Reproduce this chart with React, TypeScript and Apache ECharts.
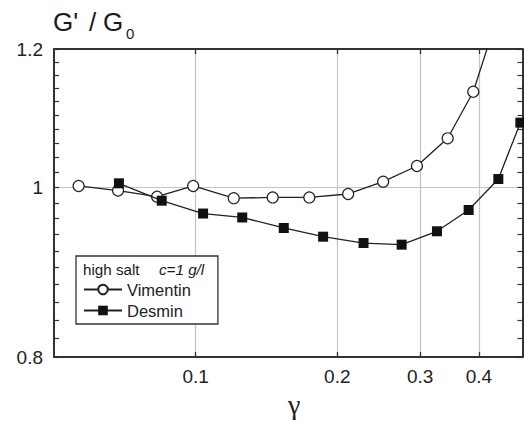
import React, { useEffect, useRef } from 'react';
import * as echarts from 'echarts';

// ---- data ----
const vimentinX = [0.0564, 0.0684, 0.0828, 0.0988, 0.1205, 0.1458, 0.1744, 0.2109, 0.2503, 0.2953, 0.3432, 0.389, 0.4327];
const vimentinY = [1.002, 0.996, 0.988, 1.002, 0.986, 0.987, 0.987, 0.9915, 1.0077, 1.0287, 1.0669, 1.1344, 1.24];
const desminX = [0.0687, 0.0847, 0.1037, 0.1256, 0.1539, 0.1866, 0.2274, 0.274, 0.3257, 0.3803, 0.4398, 0.4898];
const desminY = [1.0055, 0.9828, 0.9663, 0.9613, 0.9481, 0.9373, 0.9295, 0.9275, 0.944, 0.9708, 1.0112, 1.0891];

const xRange = [0.05, 0.495];
const yRange = [0.8, 1.2];
const xTickValues = [0.1, 0.2, 0.3, 0.4];
const yLabelValues = [0.8, 1, 1.2];
const yMinorTickValues = [0.8, 0.82, 0.84, 0.86, 0.88, 0.9, 0.92, 0.94, 0.96, 0.98, 1, 1.02, 1.04, 1.06, 1.08, 1.1, 1.12, 1.14, 1.16, 1.18, 1.2];
const yGridValues = [1];
const seriesNames = ['Vimentin', 'Desmin'];

const L = (v: number) => Math.log10(v);
const fmt = (v: number) => String(Number(Math.pow(10, v).toFixed(2)));

const AX = '#333';
const FONT = 'Liberation Sans';
const TFONT = "'Liberation Sans', Arial, Helvetica, sans-serif";

const axisLineStyle = { onZero: false, lineStyle: { color: AX, width: 2 } };

function ttl(text: string, left: number, top: number, size: number, italic = false) {
  const ts: any = { fontFamily: TFONT, fontSize: size, lineHeight: size, fontWeight: 'normal', color: '#1a1a1a' };
  if (italic) ts.fontStyle = 'italic';
  return { text, left, top, padding: 0, z: 10, textStyle: ts };
}

function buildOption() {
  const xMin = L(xRange[0]);
  const xMax = L(xRange[1]);
  const yMin = L(yRange[0]);
  const yMax = L(yRange[1]);
  const xTicks = xTickValues.map(L);
  const yMinor = yMinorTickValues.map(L);
  return {
    animation: false,
    backgroundColor: '#fff',
    textStyle: { fontFamily: FONT },
    title: [
      ttl("G'", 53, 9, 26),
      ttl('/', 89, 9, 26),
      ttl('G', 103, 9, 26),
      ttl('0', 126, 26, 15),
      ttl('high salt', 83, 261.5, 15.2),
      ttl('c=1 g/l', 159, 261.5, 15.2, true),
    ],
    grid: { left: 54, right: 1.5, top: 49, bottom: 64, containLabel: false, outerBoundsMode: 'none' },
    xAxis: [
      {
        type: 'value', position: 'bottom', min: xMin, max: xMax,
        axisLine: axisLineStyle,
        axisTick: { inside: true, length: 5, customValues: xTicks, lineStyle: { color: AX, width: 1.3 } },
        axisLabel: { customValues: xTicks, formatter: fmt, margin: 10, fontSize: 19, color: '#222', fontFamily: FONT },
        splitLine: { show: true, lineStyle: { color: '#c4c4c4', width: 1.2 } },
        name: 'γ', nameLocation: 'middle', nameGap: 19,
        nameTextStyle: { fontFamily: 'Liberation Serif', fontSize: 28, lineHeight: 28, color: '#222', padding: [0, 0, 0, 12] },
      },
      {
        type: 'value', position: 'top', min: xMin, max: xMax,
        axisLine: axisLineStyle,
        axisTick: { inside: true, length: 5, customValues: xTicks, lineStyle: { color: AX, width: 1.3 } },
        axisLabel: { show: false },
        splitLine: { show: false },
      },
    ],
    yAxis: [
      {
        type: 'value', position: 'left', min: yMin, max: yMax,
        axisLine: axisLineStyle,
        axisTick: { inside: true, length: 5, customValues: yMinor, lineStyle: { color: AX, width: 1.2 } },
        axisLabel: { customValues: yLabelValues.map(L), formatter: fmt, margin: 11, fontSize: 19, color: '#222', fontFamily: FONT },
        splitLine: { show: false },
      },
      {
        type: 'value', position: 'right', min: yMin, max: yMax,
        axisLine: axisLineStyle,
        axisTick: { inside: true, length: 5, customValues: yMinor, lineStyle: { color: AX, width: 1.2 } },
        axisLabel: { show: false },
        splitLine: { show: false },
      },
      {
        type: 'value', position: 'left', min: yMin, max: yMax,
        axisLine: { show: false },
        axisTick: { show: false, customValues: yGridValues.map(L) },
        axisLabel: { show: false },
        splitLine: { show: true, lineStyle: { color: '#c4c4c4', width: 1.2 } },
      },
    ],
    legend: {
      orient: 'vertical', left: 76, top: 256, z: 5,
      padding: [25, 27, 5, 7], itemGap: 4, itemWidth: 38, itemHeight: 12,
      borderColor: AX, borderWidth: 1.3, backgroundColor: '#fff',
      textStyle: { fontSize: 16.5, color: '#222', fontFamily: FONT },
      data: seriesNames,
    },
    series: [
      {
        name: seriesNames[0], type: 'line', xAxisIndex: 0, yAxisIndex: 0,
        data: vimentinX.map((x, i) => [L(x), L(vimentinY[i])]),
        symbol: 'circle', symbolSize: 11,
        itemStyle: { color: '#fff', borderColor: '#222', borderWidth: 1.2 },
        lineStyle: { color: '#222', width: 1.3 },
        clip: true, z: 3,
      },
      {
        name: seriesNames[1], type: 'line', xAxisIndex: 0, yAxisIndex: 0,
        data: desminX.map((x, i) => [L(x), L(desminY[i])]),
        symbol: 'rect', symbolSize: 10,
        itemStyle: { color: '#111', borderColor: '#111', borderWidth: 0 },
        lineStyle: { color: '#222', width: 1.3 },
        clip: true, z: 4,
      },
    ],
  };
}

export default function App() {
  const ref = useRef<HTMLDivElement>(null);
  useEffect(() => {
    const chart = echarts.init(ref.current as HTMLDivElement, null, { renderer: 'svg' });
    chart.setOption(buildOption() as any);
    return () => chart.dispose();
  }, []);
  return (
    <div
      ref={ref}
      style={{ position: 'fixed', left: 0, top: 0, width: 524, height: 421, background: '#fff' }}
    />
  );
}
